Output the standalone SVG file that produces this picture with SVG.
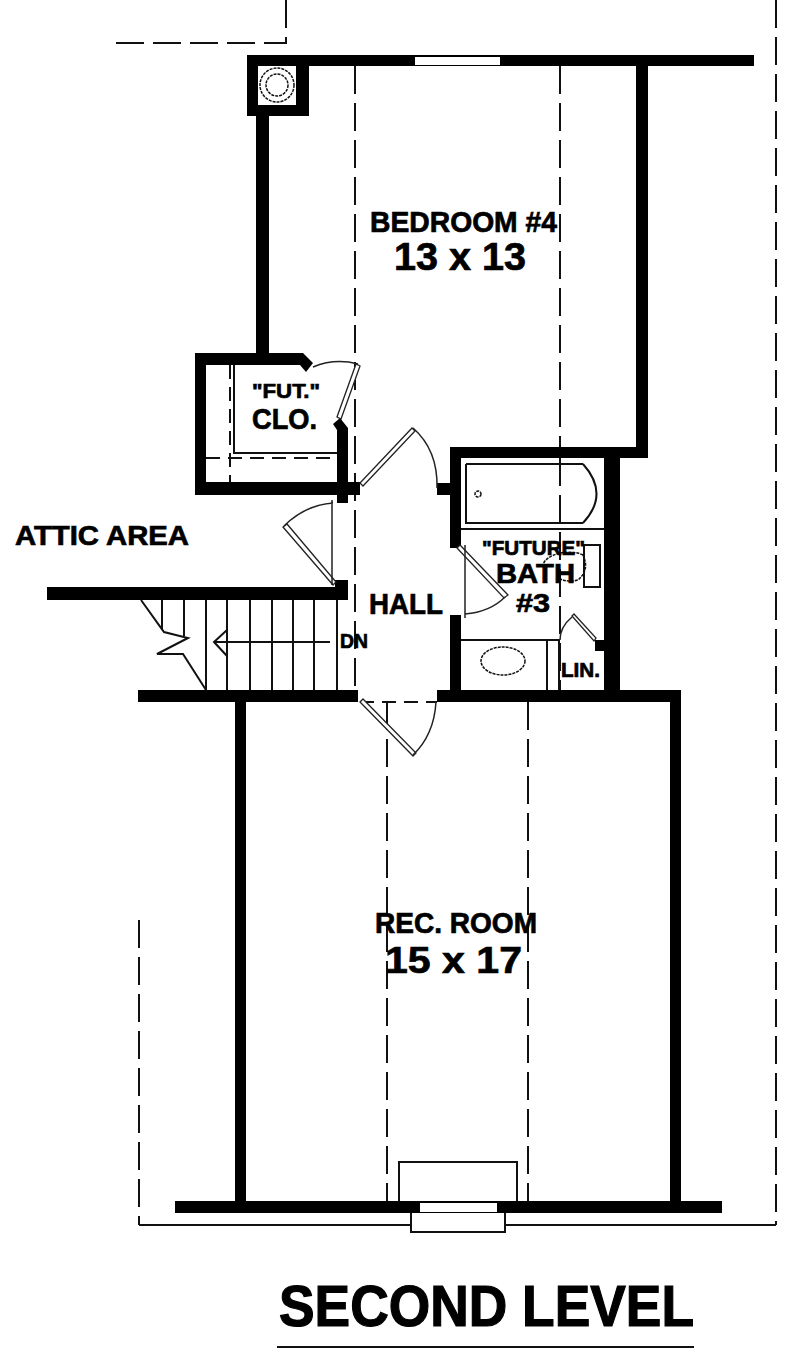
<svg xmlns="http://www.w3.org/2000/svg" width="800" height="1365" viewBox="0 0 800 1365">
<style>
.w{fill:#000}
.l{fill:none;stroke:#111;stroke-width:2}
.t{fill:none;stroke:#222;stroke-width:1.5}
.d{fill:none;stroke:#111;stroke-width:2;stroke-dasharray:28 9}
.s{fill:none;stroke:#111;stroke-width:1.5;stroke-dasharray:3 1}
.leaf{fill:#fff;stroke:#222;stroke-width:1.3}
text{font-family:"Liberation Sans",Arial,sans-serif;font-weight:700;fill:#000;stroke:#000;stroke-width:.7}
</style>
<rect width="800" height="1365" fill="#fff"/>
<g id="outlines">
<path class="d" d="M355 66V690M560 66V447M560 458V690M387 702V1201M528 702V1201M286 0V43H110M139 920V1225M776 0V1225"/>
<path class="l" d="M139 1225H411M505 1225H776M399 1201V1162H517V1201M411 1213V1232H505V1213"/>
<path class="d" style="stroke-dasharray:14 8" d="M230 365V482M206 458H337M360 702H437"/>
<path class="l" d="M234 365V453H337"/>
</g>
<g id="walls">
<path class="w" fill-rule="evenodd" d="M247 55H754V66H648V458H620V702H604V458H461V548H450V447H636V66H309V116H247ZM258 66V105H296V66Z"/>
<path class="w" d="M256 116H269V353H256Z"/>
<path class="w" d="M195 353H303L313 363 306 372 300 365H206V482H337V430L333 424 340 418 348 428V482H360V495H348V503H337V495H195Z"/>
<path class="w" d="M437 483H450V495H437Z"/>
<path class="w" d="M450 615H461V702H450Z"/>
<path class="w" d="M47 587H335V580H348V600H47Z"/>
<path class="w" d="M138 690H358V702H138Z"/>
<path class="w" d="M437 690H681V702H437Z"/>
<path class="w" d="M235 702H246V1201H235Z"/>
<path class="w" d="M670 702H681V1201H670Z"/>
<path class="w" d="M175 1201H722V1213H175Z"/>
<path class="w" d="M595 640H604V651H595Z"/>
<rect x="415" y="57" width="85" height="8" fill="#fff"/>
<rect x="420" y="1203" width="77" height="9" fill="#fff"/>
</g>
<g id="fixtures">
<circle class="s" cx="277" cy="85" r="17"/>
<circle class="s" cx="277" cy="85" r="11"/>
<path class="l" d="M461 529H604M461 640H560M466 464V523H583M466 464H583M583 464Q610 494 583 523"/>
<circle class="s" cx="478" cy="494" r="3"/>
<ellipse class="s" cx="503" cy="661" rx="22" ry="14"/>
<rect class="l" x="584" y="545" width="16" height="42"/>
<path class="s" d="M583 555C568 548 545 555 543 565M583 555Q590 570 578 580Q568 583 558 578"/>
<path class="l" d="M547 640V690M559 640V690"/>
</g>
<g id="stairs">
<path class="l" d="M162 600V630M184 600V636M206 600V690M227 600V690M250 600V690M272 600V690M293 600V690M314 600V690M337 600V690"/>
<path class="l" d="M141 600L164 632 188 638 157 654H183L206 690"/>
<path class="l" d="M330 642H214M227 630L214 642 227 656"/>
</g>
<g id="doors">
<path class="leaf" d="M337 417L341 419 360 366 356 364Z"/>
<path class="t" d="M313 367Q335 358 358 364"/>
<path class="leaf" d="M360 483L363 486 415 431 412 428Z"/>
<path class="t" d="M413 428Q438 450 437 488"/>
<path class="leaf" d="M333 585L336 582 287 524 283 527Z"/>
<path class="t" d="M284 526Q305 505 333 503M332 500V585"/>
<path class="leaf" d="M457 548L460 545 508 595 504 598Z"/>
<path class="t" d="M505 597Q490 612 465 614M465 545V618"/>
<path class="leaf" d="M572 616L574 614 596 638 594 641Z"/>
<path class="t" d="M572 617Q560 627 560 640"/>
<path class="leaf" d="M360 702L363 699 416 753 413 756Z"/>
<path class="t" d="M413 755Q434 735 436 702"/>
</g>
<g id="labels">
<text x="370" y="232" font-size="30" textLength="187" lengthAdjust="spacingAndGlyphs">BEDROOM #4</text>
<text x="394" y="270" font-size="38" textLength="132" lengthAdjust="spacingAndGlyphs">13 x 13</text>
<text x="252" y="398" font-size="21" textLength="68" lengthAdjust="spacingAndGlyphs">"FUT."</text>
<text x="252" y="429" font-size="30" textLength="65" lengthAdjust="spacingAndGlyphs">CLO.</text>
<text x="15" y="545" font-size="28" textLength="174" lengthAdjust="spacingAndGlyphs">ATTIC AREA</text>
<text x="369" y="614" font-size="29" textLength="74" lengthAdjust="spacingAndGlyphs">HALL</text>
<text x="340" y="648" font-size="20" textLength="28" lengthAdjust="spacingAndGlyphs">DN</text>
<text x="482" y="555" font-size="20" textLength="103" lengthAdjust="spacingAndGlyphs">"FUTURE"</text>
<text x="496" y="583" font-size="27" textLength="79" lengthAdjust="spacingAndGlyphs">BATH</text>
<text x="516" y="612" font-size="25" textLength="34" lengthAdjust="spacingAndGlyphs">#3</text>
<text x="561" y="677" font-size="21" textLength="39" lengthAdjust="spacingAndGlyphs">LIN.</text>
<text x="375" y="933" font-size="29" textLength="162" lengthAdjust="spacingAndGlyphs">REC. ROOM</text>
<text x="385" y="973" font-size="37" textLength="137" lengthAdjust="spacingAndGlyphs">15 x 17</text>
<text x="279" y="1326" font-size="57" textLength="415" lengthAdjust="spacingAndGlyphs" style="stroke-width:1.2">SECOND LEVEL</text>
<path class="l" d="M277 1347H694"/>
</g>
</svg>
